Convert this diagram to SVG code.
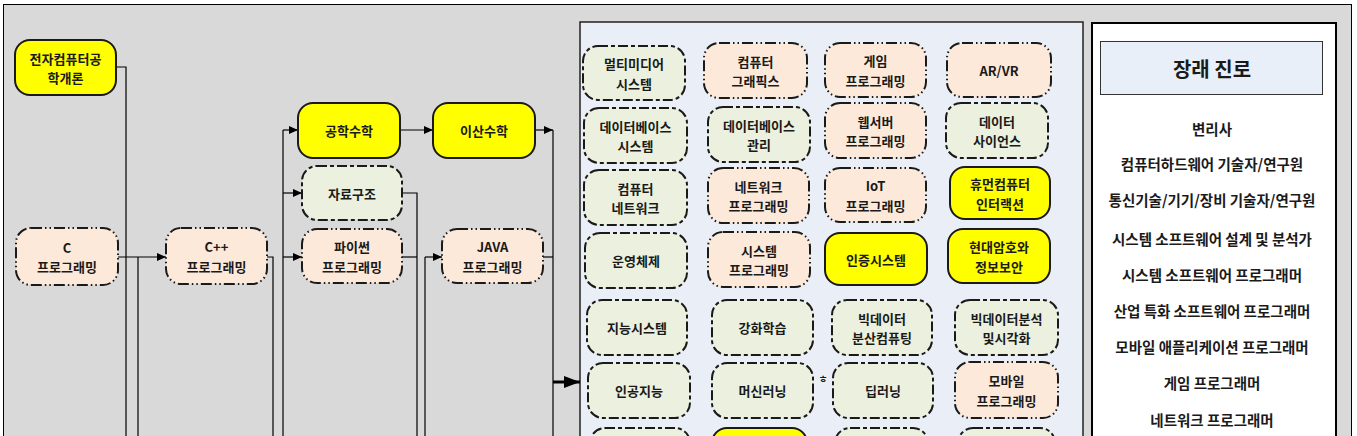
<svg xmlns="http://www.w3.org/2000/svg" width="1357" height="436" viewBox="0 0 1357 436">
<style>
text{font-family:"Noto Sans CJK KR","Liberation Sans",sans-serif;font-weight:bold;fill:#1a1a1a;text-anchor:middle;dominant-baseline:central}
.n{font-size:13px}
.y{fill:#ffff00;stroke:#1a1a1a;stroke-width:2}
.g{fill:#ebf1de;stroke:#1a1a1a;stroke-width:2;stroke-dasharray:10 3 4 3}
.p{fill:#fde9d9;stroke:#1a1a1a;stroke-width:2;stroke-dasharray:11 3 1.5 3 1.5 3}
.c{fill:none;stroke:#000;stroke-width:1.2}
.l{font-size:14.5px}
</style>
<defs>
<marker id="a" markerUnits="userSpaceOnUse" markerWidth="9" markerHeight="8" refX="9" refY="4" orient="auto"><path d="M0,0 L9,4 L0,8 z" fill="#000"/></marker>
<marker id="b" markerUnits="userSpaceOnUse" markerWidth="16" markerHeight="12" refX="16" refY="6" orient="auto"><path d="M0,0 L16,6 L0,12 z" fill="#000"/></marker>
</defs>
<rect x="3.5" y="4.5" width="1348" height="450" fill="#d9d9d9" stroke="#000" stroke-width="1"/>
<rect id="panel-mid" x="580" y="22" width="503" height="440" fill="#e9eef7" stroke="#222" stroke-width="1.5"/>
<g id="panel-right">
<rect x="1092" y="23" width="244" height="440" fill="#fff" stroke="#000" stroke-width="2"/>
<rect x="1100.5" y="41.5" width="222" height="53" fill="#e9eff8" stroke="#333" stroke-width="1"/>
<text x="1212" y="68" style="font-size:20px">장래 진로</text>
<text class="l" x="1212" y="128">변리사</text>
<text class="l" x="1212" y="163">컴퓨터하드웨어 기술자/연구원</text>
<text class="l" x="1212" y="199">통신기술/기기/장비 기술자/연구원</text>
<text class="l" x="1212" y="238">시스템 소프트웨어 설계 및 분석가</text>
<text class="l" x="1212" y="274">시스템 소프트웨어 프로그래머</text>
<text class="l" x="1212" y="310">산업 특화 소프트웨어 프로그래머</text>
<text class="l" x="1212" y="346">모바일 애플리케이션 프로그래머</text>
<text class="l" x="1212" y="382">게임 프로그래머</text>
<text class="l" x="1212" y="419">네트워크 프로그래머</text>
</g>
<g id="connectors">
<polyline class="c" points="116,67 126,67 126,440"/>
<line class="c" x1="118" y1="257" x2="166" y2="257" marker-end="url(#a)"/>
<line class="c" x1="138" y1="257" x2="138" y2="440"/>
<polyline class="c" points="267,257 273,257 273,440"/>
<line class="c" x1="283" y1="130" x2="283" y2="440"/>
<line class="c" x1="283" y1="130" x2="298" y2="130" marker-end="url(#a)"/>
<line class="c" x1="283" y1="193" x2="302" y2="193" marker-end="url(#a)"/>
<line class="c" x1="283" y1="257" x2="302" y2="257" marker-end="url(#a)"/>
<line class="c" x1="400" y1="130" x2="433" y2="130" marker-end="url(#a)"/>
<polyline class="c" points="402,193 417,193 417,440"/>
<line class="c" x1="402" y1="257" x2="417" y2="257"/>
<line class="c" x1="425" y1="257" x2="425" y2="440"/>
<line class="c" x1="425" y1="257" x2="442" y2="257" marker-end="url(#a)"/>
<line class="c" x1="535" y1="130" x2="553" y2="130" marker-end="url(#a)"/>
<line class="c" x1="553" y1="130" x2="553" y2="440"/>
<line class="c" x1="543" y1="257" x2="553" y2="257"/>
<line x1="553" y1="382" x2="580" y2="382" stroke="#000" stroke-width="3" marker-end="url(#b)"/>
</g>
<g id="n-intro"><rect class="y" x="15" y="40" width="101" height="55" rx="15"/><text class="n" x="65.5" y="58">전자컴퓨터공<tspan x="65.5" dy="19">학개론</tspan></text></g>
<g id="n-c"><rect class="p" x="16" y="228" width="102" height="57" rx="15"/><text class="n" x="67" y="247">C<tspan x="67" dy="19">프로그래밍</tspan></text></g>
<g id="n-cpp"><rect class="p" x="166" y="228" width="101" height="56" rx="15"/><text class="n" x="216.5" y="246.5">C++<tspan x="216.5" dy="19">프로그래밍</tspan></text></g>
<g id="n-engmath"><rect class="y" x="298" y="103" width="102" height="55" rx="15"/><text class="n" x="349" y="130">공학수학</text></g>
<g id="n-ds"><rect class="g" x="302" y="166" width="100" height="54" rx="15"/><text class="n" x="352" y="193">자료구조</text></g>
<g id="n-py"><rect class="p" x="302" y="229" width="100" height="54" rx="15"/><text class="n" x="352" y="246.5">파이썬<tspan x="352" dy="19">프로그래밍</tspan></text></g>
<g id="n-dm"><rect class="y" x="433" y="103" width="102" height="55" rx="15"/><text class="n" x="484" y="130">이산수학</text></g>
<g id="n-java"><rect class="p" x="442" y="229" width="101" height="54" rx="15"/><text class="n" x="492.5" y="246.5">JAVA<tspan x="492.5" dy="19">프로그래밍</tspan></text></g>

<g id="n-mm"><rect class="g" x="583" y="46" width="102" height="54" rx="15"/><text class="n" x="634" y="63.5">멀티미디어<tspan x="634" dy="19">시스템</tspan></text></g>
<g id="n-cg"><rect class="p" x="704" y="43" width="103" height="55" rx="15"/><text class="n" x="755.5" y="61">컴퓨터<tspan x="755.5" dy="19">그래픽스</tspan></text></g>
<g id="n-game"><rect class="p" x="825" y="43" width="101" height="54" rx="15"/><text class="n" x="875.5" y="60.5">게임<tspan x="875.5" dy="19">프로그래밍</tspan></text></g>
<g id="n-arvr"><rect class="p" x="947" y="43" width="104" height="54" rx="15"/><text class="n" x="999" y="70">AR/VR</text></g>

<g id="n-dbs"><rect class="g" x="584" y="108" width="103" height="55" rx="15"/><text class="n" x="635.5" y="126">데이터베이스<tspan x="635.5" dy="19">시스템</tspan></text></g>
<g id="n-dbm"><rect class="g" x="708" y="107" width="102" height="55" rx="15"/><text class="n" x="759" y="125">데이터베이스<tspan x="759" dy="19">관리</tspan></text></g>
<g id="n-web"><rect class="p" x="825" y="103" width="101" height="55" rx="15"/><text class="n" x="875.5" y="121">웹서버<tspan x="875.5" dy="19">프로그래밍</tspan></text></g>
<g id="n-dsci"><rect class="g" x="946" y="103" width="102" height="55" rx="15"/><text class="n" x="997" y="121">데이터<tspan x="997" dy="19">사이언스</tspan></text></g>

<g id="n-net"><rect class="g" x="584" y="170" width="103" height="55" rx="15"/><text class="n" x="635.5" y="188">컴퓨터<tspan x="635.5" dy="19">네트워크</tspan></text></g>
<g id="n-netp"><rect class="p" x="708" y="168" width="101" height="55" rx="15"/><text class="n" x="758.5" y="186">네트워크<tspan x="758.5" dy="19">프로그래밍</tspan></text></g>
<g id="n-iot"><rect class="p" x="825" y="168" width="101" height="54" rx="15"/><text class="n" x="875.5" y="185.5">IoT<tspan x="875.5" dy="19">프로그래밍</tspan></text></g>
<g id="n-hci"><rect class="y" x="950" y="167" width="100" height="52" rx="15"/><text class="n" x="1000" y="183.5">휴먼컴퓨터<tspan x="1000" dy="19">인터랙션</tspan></text></g>

<g id="n-os"><rect class="g" x="585" y="233" width="102" height="55" rx="15"/><text class="n" x="636" y="260">운영체제</text></g>
<g id="n-sysp"><rect class="p" x="708" y="232" width="102" height="55" rx="15"/><text class="n" x="759" y="250">시스템<tspan x="759" dy="19">프로그래밍</tspan></text></g>
<g id="n-auth"><rect class="y" x="825" y="233" width="102" height="52" rx="15"/><text class="n" x="876" y="259">인증시스템</text></g>
<g id="n-crypto"><rect class="y" x="948" y="229" width="102" height="54" rx="15"/><text class="n" x="999" y="246.5">현대암호와<tspan x="999" dy="19">정보보안</tspan></text></g>

<g id="n-is"><rect class="g" x="587" y="300" width="100" height="55" rx="15"/><text class="n" x="637" y="327">지능시스템</text></g>
<g id="n-rl"><rect class="g" x="712" y="300" width="101" height="55" rx="15"/><text class="n" x="762.5" y="327">강화학습</text></g>
<g id="n-bdc"><rect class="g" x="832" y="300" width="100" height="55" rx="15"/><text class="n" x="882" y="318">빅데이터<tspan x="882" dy="19">분산컴퓨팅</tspan></text></g>
<g id="n-bdv"><rect class="g" x="955" y="300" width="103" height="55" rx="15"/><text class="n" x="1006.5" y="318">빅데이터분석<tspan x="1006.5" dy="19">및시각화</tspan></text></g>

<text x="823" y="378" style="font-size:10px">ㅎ</text>
<g id="n-ai"><rect class="g" x="588" y="363" width="102" height="55" rx="15"/><text class="n" x="639" y="390">인공지능</text></g>
<g id="n-ml"><rect class="g" x="712" y="363" width="101" height="55" rx="15"/><text class="n" x="762.5" y="390">머신러닝</text></g>
<g id="n-dl"><rect class="g" x="833" y="363" width="100" height="55" rx="15"/><text class="n" x="883" y="390">딥러닝</text></g>
<g id="n-mob"><rect class="p" x="955" y="362" width="103" height="56" rx="15"/><text class="n" x="1006.5" y="380.5">모바일<tspan x="1006.5" dy="19">프로그래밍</tspan></text></g>

<g id="n-r7a"><rect class="g" x="590" y="428" width="100" height="50" rx="15"/></g>
<g id="n-r7b"><rect class="y" x="712" y="428" width="95" height="50" rx="15"/></g>
<g id="n-r7c"><rect class="g" x="835" y="428" width="93" height="50" rx="15"/></g>
<g id="n-r7d"><rect class="g" x="958" y="428" width="97" height="50" rx="15"/></g>
</svg>
